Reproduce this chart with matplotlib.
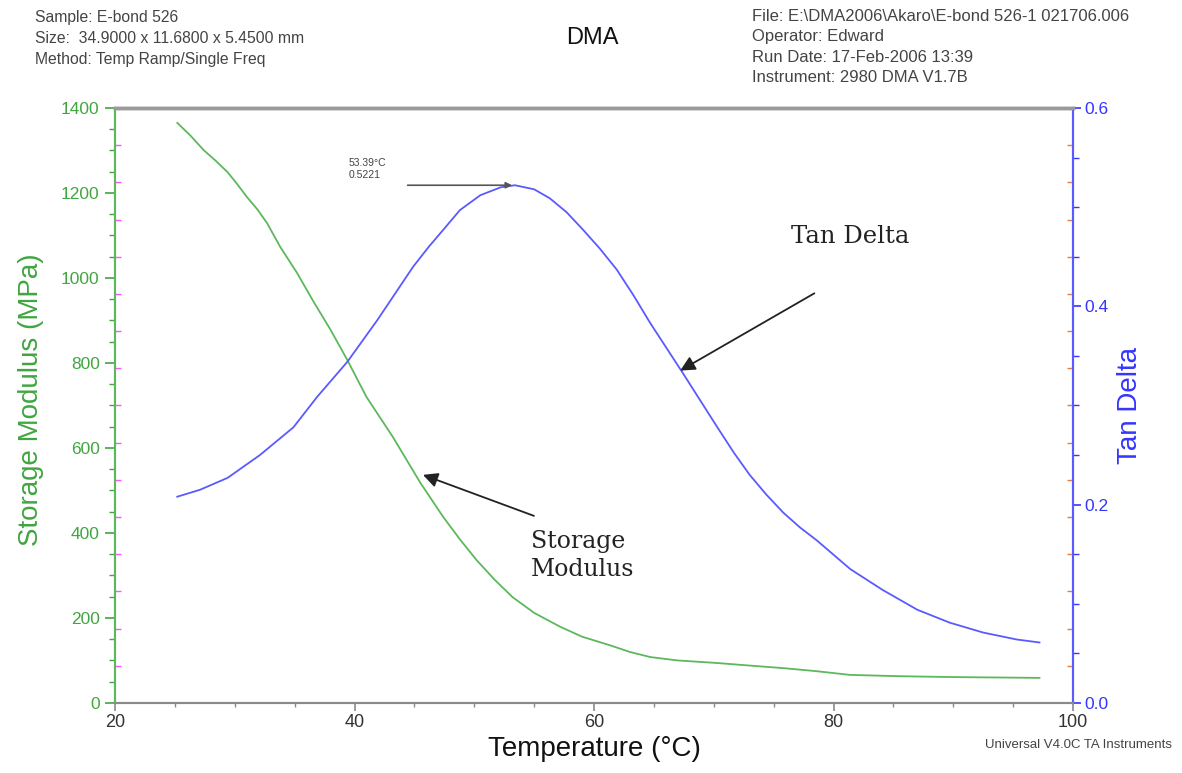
#!/usr/bin/env python3
import matplotlib
matplotlib.use("Agg")
import matplotlib.pyplot as plt
import numpy as np
from matplotlib.ticker import MultipleLocator, FixedLocator, FormatStrFormatter

# storage modulus (MPa) vs temperature (C)
temp_e = [25.2, 26.3, 27.4, 28.4, 29.4, 30.2, 31.0, 31.9, 32.7, 33.8, 35.2, 36.5,
          38.0, 39.4, 41.0, 43.2, 45.5, 47.4, 48.8, 50.2, 51.7, 53.2, 55.0, 57.2,
          59.0, 61.3, 63.0, 64.7, 67.0, 70.3, 73.0, 75.8, 78.5, 81.4, 85.5, 89.7,
          93.5, 97.2]
storage_mod = [1365, 1335, 1301, 1276, 1249, 1221, 1191, 1161, 1129, 1073, 1012, 948,
               878, 807, 720, 626, 518, 438, 385, 336, 290, 249, 212, 179,
               156, 136, 120, 108, 100, 94, 88, 82, 75, 66, 63, 61,
               60, 59]

# tan delta vs temperature (C)
temp_t = [25.2, 27.1, 29.4, 32.1, 34.9, 36.9, 39.4, 41.9, 44.9, 46.2, 47.4, 48.8,
          50.5, 52.2, 53.39, 55.0, 56.3, 57.7, 59.1, 60.5, 61.9, 63.3, 64.7, 67.4,
          70.3, 71.7, 73.0, 74.4, 75.8, 77.2, 78.6, 81.4, 84.1, 87.0, 89.7, 92.5,
          95.3, 97.2]
tan_delta = [0.208, 0.215, 0.227, 0.250, 0.278, 0.309, 0.344, 0.386, 0.440, 0.460,
             0.477, 0.497, 0.512, 0.520, 0.5221, 0.518, 0.509, 0.495, 0.477, 0.458,
             0.437, 0.411, 0.383, 0.333, 0.278, 0.252, 0.230, 0.210, 0.192, 0.177,
             0.164, 0.135, 0.114, 0.094, 0.081, 0.071, 0.064, 0.061]

peak_t = 53.39
peak_tan = 0.5221

GREEN_LINE = "#5cb85c"
GREEN_TXT = "#40a640"
BLUE_LINE = "#5a5aff"
BLUE_TXT = "#3535ff"
GRAY = "#8a8a8a"

plt.rcParams["font.family"] = ["Liberation Sans", "DejaVu Sans"]

fig = plt.figure(figsize=(11.82, 7.73), dpi=100)
ax = fig.add_axes([0.0973, 0.0906, 0.8105, 0.7697])
ax2 = ax.twinx()

ax.plot(temp_e, storage_mod, color=GREEN_LINE, lw=1.3, solid_joinstyle="round")
ax2.plot(temp_t, tan_delta, color=BLUE_LINE, lw=1.3, solid_joinstyle="round")

ax.set_xlim(20, 100)
ax.set_ylim(0, 1400)
ax2.set_ylim(0, 0.6)

# x axis
ax.xaxis.set_major_locator(MultipleLocator(20))
ax.xaxis.set_minor_locator(MultipleLocator(5))
ax.tick_params(axis="x", which="major", direction="out", length=6, width=1.2,
               color=GRAY, labelcolor="#333333", labelsize=13, pad=2)
ax.tick_params(axis="x", which="minor", direction="out", length=3, width=1.0, color=GRAY)
ax.set_xlabel("Temperature (\u00b0C)", fontsize=20, color="#111111")
ax.xaxis.set_label_coords(0.5, -0.055)

# left axis
ax.yaxis.set_major_locator(MultipleLocator(200))
ax.yaxis.set_minor_locator(MultipleLocator(50))
ax.tick_params(axis="y", which="major", direction="out", length=7, width=1.2,
               color=GREEN_TXT, labelcolor=GREEN_TXT, labelsize=12.5, pad=4)
ax.tick_params(axis="y", which="minor", direction="out", length=4, width=1.0, color=GREEN_TXT)
ax.set_ylabel("Storage Modulus (MPa)", fontsize=20, color=GREEN_TXT)
ax.yaxis.set_label_coords(-0.074, 0.509)

# right axis
ax2.yaxis.set_major_locator(MultipleLocator(0.2))
ax2.yaxis.set_minor_locator(MultipleLocator(0.05))
ax2.yaxis.set_major_formatter(FormatStrFormatter("%.1f"))
ax2.tick_params(axis="y", which="major", direction="out", length=6, width=1.2,
                color=BLUE_TXT, labelcolor=BLUE_TXT, labelsize=12.5, pad=2)
ax2.tick_params(axis="y", which="minor", direction="out", length=4, width=1.0, color=BLUE_TXT)
ax2.set_ylabel("Tan Delta", fontsize=20, color=BLUE_TXT)
ax2.yaxis.set_label_coords(1.046, 0.50)

# extra inner tick marks (16 divisions) like the instrument output
inner_l = ax.secondary_yaxis("left")
inner_l.yaxis.set_major_locator(FixedLocator(np.linspace(0, 1400, 17)[1:-1]))
inner_l.tick_params(direction="in", length=4, width=1.0, color="#ff55ff", labelleft=False)
inner_l.spines["left"].set_visible(False)
inner_r = ax2.secondary_yaxis("right")
inner_r.yaxis.set_major_locator(FixedLocator(np.linspace(0, 0.6, 17)[1:-1]))
inner_r.tick_params(direction="in", length=4, width=1.0, color="#e08040", labelright=False)
inner_r.spines["right"].set_visible(False)

for a in (ax, ax2):
    a.spines["left"].set_color(GREEN_LINE)
    a.spines["left"].set_linewidth(1.5)
    a.spines["right"].set_color(BLUE_LINE)
    a.spines["right"].set_linewidth(1.5)
    a.spines["bottom"].set_color(GRAY)
    a.spines["bottom"].set_linewidth(1.5)
    a.spines["top"].set_color("#9a9a9a")
    a.spines["top"].set_linewidth(2.5)

# peak annotation
ax2.annotate("", xy=(peak_t, peak_tan), xytext=(44.2, peak_tan),
             arrowprops=dict(arrowstyle="-|>", color="#555555", lw=1.2, mutation_scale=9))
ax2.text(39.5, 0.5496, f"{peak_t:.2f}\u00b0C\n{peak_tan:.4f}", fontsize=7.5,
         color="#444444", ha="left", va="top", linespacing=1.25)

# curve labels
ax2.annotate("", xy=(67.0, 0.3338), xytext=(78.6, 0.4145),
             arrowprops=dict(arrowstyle="-|>", color="#222222", lw=1.3, mutation_scale=22))
ax2.text(81.4, 0.470, "Tan Delta", family="DejaVu Serif", fontsize=17.5,
         color="#222222", ha="center", va="center")
ax.annotate("", xy=(45.5, 539), xytext=(55.2, 438),
            arrowprops=dict(arrowstyle="-|>", color="#222222", lw=1.3, mutation_scale=22))
ax.text(54.7, 407, "Storage\nModulus", family="DejaVu Serif", fontsize=17,
        color="#222222", ha="left", va="top", linespacing=1.3)

# header block
fig.text(0.0296, 0.987, "Sample: E-bond 526\nSize:  34.9000 x 11.6800 x 5.4500 mm\n"
         "Method: Temp Ramp/Single Freq", fontsize=11.3, color="#444444",
         ha="left", va="top", linespacing=1.5)
fig.text(0.501, 0.951, "DMA", fontsize=17, color="#111111", ha="center", va="center")
fig.text(0.636, 0.988, "File: E:\\DMA2006\\Akaro\\E-bond 526-1 021706.006\n"
         "Operator: Edward\nRun Date: 17-Feb-2006 13:39\nInstrument: 2980 DMA V1.7B",
         fontsize=12, color="#444444", ha="left", va="top", linespacing=1.43)
fig.text(0.9915, 0.036, "Universal V4.0C TA Instruments", fontsize=9.5,
         color="#444444", ha="right", va="center")

fig.savefig("out.png", dpi=100)
